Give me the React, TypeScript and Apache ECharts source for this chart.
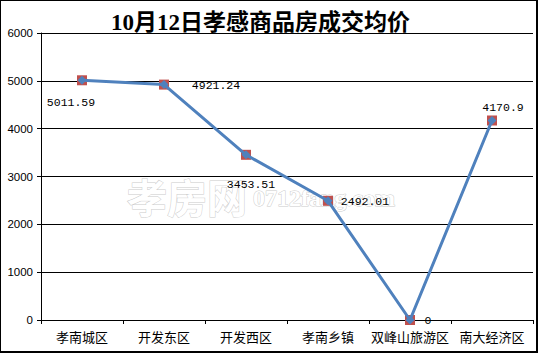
import React, { useEffect, useRef } from "react";
import * as echarts from "echarts";

const titleText = "10月12日孝感商品房成交均价";
const categories = ["孝南城区", "开发东区", "开发西区", "孝南乡镇", "双峰山旅游区", "南大经济区"];
const prices = [5011.59, 4921.24, 3453.51, 2492.01, 0, 4170.9];
const yTicks = { min: 0, max: 6000, interval: 1000 };
// label offsets (style only, relative to each point)
const labelOffsets: [number, number][] = [
  [-11, 22],
  [52, 1],
  [5, 30],
  [37, 1],
  [18, 0],
  [11, -13],
];

export default function App() {
  const ref = useRef<HTMLDivElement>(null);
  useEffect(() => {
    if (!ref.current) return;
    const chart = echarts.init(ref.current, null, { renderer: "svg" });
    const labelFont = "'Liberation Mono', monospace";
    chart.setOption({
      animation: false,
      backgroundColor: "#ffffff",
      title: {
        text: titleText,
        left: 106,
        top: 6,
        textStyle: {
          fontFamily: "'Liberation Serif', 'Noto Sans CJK SC', serif",
          fontWeight: "bold",
          fontSize: 23,
          color: "#000",
        },
      },
      graphic: [
        {
          type: "text",
          z: -10,
          x: 127,
          y: 176,
          style: {
            text: "孝房网",
            fontSize: 40,
            fontWeight: "bold",
            fontFamily: "'Noto Sans CJK SC', sans-serif",
            fill: "#ffffff",
            stroke: "#cccccc",
            lineWidth: 1,
          },
        },
        {
          type: "text",
          z: -10,
          x: 253,
          y: 186,
          style: {
            text: "0712fang.com",
            fontSize: 24,
            fontWeight: "bold",
            fontFamily: "'Liberation Serif', serif",
            fill: "#ffffff",
            stroke: "#cccccc",
            lineWidth: 1,
          },
        },
        { type: "rect", z: 100, shape: { x: 0, y: 0, width: 1, height: 353 }, style: { fill: "#000" } },
        { type: "rect", z: 100, shape: { x: 0, y: 0, width: 538, height: 1 }, style: { fill: "#000" } },
        { type: "rect", z: 100, shape: { x: 536, y: 0, width: 2, height: 353 }, style: { fill: "#000" } },
        { type: "rect", z: 100, shape: { x: 0, y: 351, width: 538, height: 2 }, style: { fill: "#000" } },
      ],
      grid: { left: 41, right: 5, top: 33, bottom: 33, containLabel: false },
      xAxis: {
        type: "category",
        data: categories,
        boundaryGap: true,
        axisLine: { show: true, lineStyle: { color: "#000", width: 1 } },
        axisTick: { show: true, length: 4, lineStyle: { color: "#000" } },
        axisLabel: {
          margin: 10,
          fontSize: 13,
          color: "#000",
          fontFamily: "'Noto Sans CJK SC', sans-serif",
          interval: 0,
        },
        splitLine: { show: false },
      },
      yAxis: {
        type: "value",
        min: yTicks.min,
        max: yTicks.max,
        interval: yTicks.interval,
        axisLine: { show: true, lineStyle: { color: "#000", width: 1 } },
        axisTick: { show: true, length: 4, lineStyle: { color: "#000" } },
        axisLabel: {
          margin: 8,
          fontSize: 11.5,
          color: "#000",
          fontFamily: "'Liberation Sans', Arial, sans-serif",
          formatter: (v: number) => String(v),
        },
        splitLine: { show: true, lineStyle: { color: "#000", width: 1 } },
      },
      series: [
        {
          type: "line",
          data: prices,
          symbol: "rect",
          symbolSize: 10,
          itemStyle: { color: "#C0504D" },
          lineStyle: { opacity: 0, width: 0 },
          z: 2,
        },
        {
          type: "line",
          data: prices.map((v, i) => ({
            value: v,
            label: {
              show: true,
              position: "inside",
              offset: labelOffsets[i],
              formatter: String(v),
            },
          })),
          symbol: "diamond",
          symbolSize: 9,
          itemStyle: { color: "#4F81BD" },
          lineStyle: { color: "#4F81BD", width: 3 },
          label: {
            show: true,
            color: "#000",
            fontSize: 11.5,
            fontFamily: labelFont,
          },
          z: 3,
        },
      ],
    });
    return () => chart.dispose();
  }, []);
  return (
    <div
      ref={ref}
      style={{ position: "fixed", left: 0, top: 0, width: 538, height: 353 }}
    />
  );
}
